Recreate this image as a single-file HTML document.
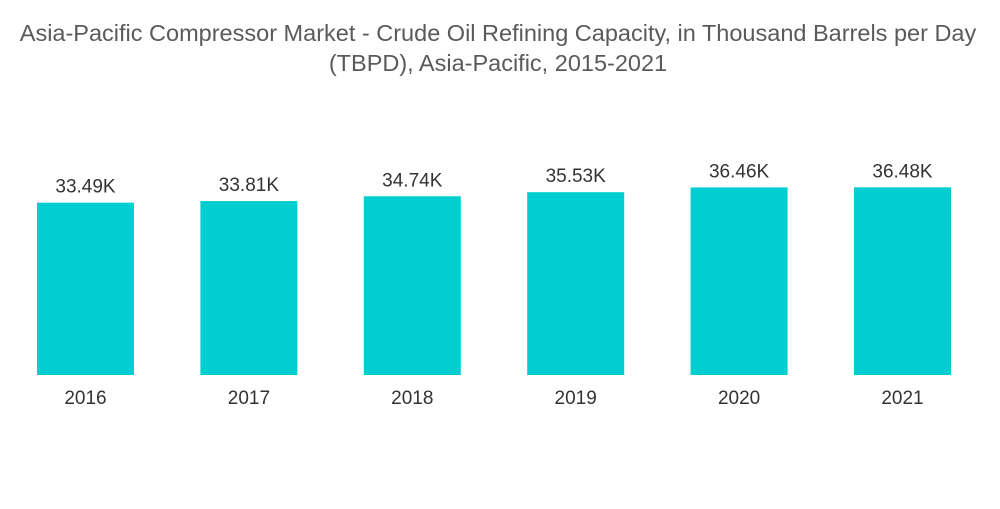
<!DOCTYPE html>
<html><head><meta charset="utf-8"><style>
body{margin:0;background:#fff;width:1000px;height:504px;overflow:hidden;font-family:"Liberation Sans",sans-serif}
</style></head><body>
<svg width="1000" height="504">
<text x="498" y="41" text-anchor="middle" font-size="23.5" fill="#5a5a5a">Asia-Pacific Compressor Market - Crude Oil Refining Capacity, in Thousand Barrels per Day</text>
<text x="498" y="71" text-anchor="middle" font-size="23.5" fill="#5a5a5a">(TBPD), Asia-Pacific, 2015-2021</text>
<g id="bars"></g>
</svg>
<script>
const categories=["2016","2017","2018","2019","2020","2021"];
const values=[33.49,33.81,34.74,35.53,36.46,36.48];
const valueLabels=["33.49K","33.81K","34.74K","35.53K","36.46K","36.48K"];
const g=document.getElementById('bars');
const ns="http://www.w3.org/2000/svg";
const baseY=375, pxPerUnit=5.145, x0=37, step=163.4, bw=97;
const y=v=>baseY-v*pxPerUnit;
const xPos=i=>x0+i*step;
categories.forEach((c,i)=>{
 const r=document.createElementNS(ns,'rect');
 
 
 r.setAttribute('x',xPos(i));r.setAttribute('y',y(values[i]));
 r.setAttribute('width',bw);r.setAttribute('height',baseY-y(values[i]));
 r.setAttribute('fill','#00ced1');g.appendChild(r);
 const t=document.createElementNS(ns,'text');
 
 
 t.setAttribute('x',xPos(i)+bw/2);t.setAttribute('y',y(values[i])-10);
 t.setAttribute('text-anchor','middle');t.setAttribute('font-size','19');t.setAttribute('fill','#333');
 t.textContent=valueLabels[i];g.appendChild(t);
 const l=document.createElementNS(ns,'text');
 
 
 l.setAttribute('x',xPos(i)+bw/2);l.setAttribute('y',404);
 l.setAttribute('text-anchor','middle');l.setAttribute('font-size','19');l.setAttribute('fill','#333');
 l.textContent=c;g.appendChild(l);
});
</script>
</body></html>
